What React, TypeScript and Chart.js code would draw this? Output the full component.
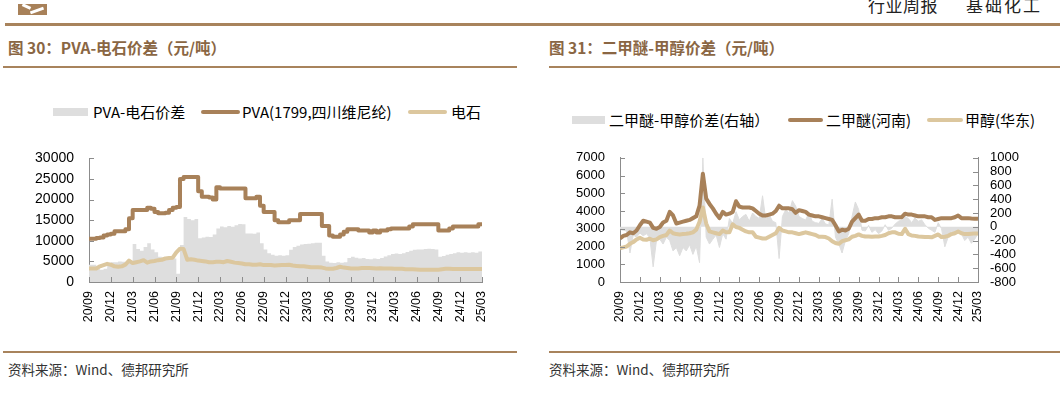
import React, { useEffect, useRef } from "react";
import { Chart, registerables } from "chart.js";
Chart.register(...registerables);

// ---------- data (half-month steps starting 2020/09) ----------
const xTickLabels = ["20/09","20/12","21/03","21/06","21/09","21/12","22/03","22/06","22/09","22/12","23/03","23/06","23/09","23/12","24/03","24/06","24/09","24/12","25/03"];

const pvaPrice = [10500,10500,10700,10800,11300,11500,11700,12300,12300,12300,12800,15500,17500,17500,17500,17500,18000,17800,17000,16700,16700,16800,17500,18000,18200,25000,25500,25500,25500,25500,22000,20700,20700,20500,20000,23000,22700,22700,22700,22700,22700,22700,22700,20300,20300,20300,20700,18500,17000,17000,17000,15000,14500,14500,14500,15000,15000,15000,16500,16500,16500,16500,16500,16500,13600,13600,11300,11000,11000,11500,12200,12800,12800,12800,12500,12500,12500,12000,12500,12000,12500,12500,12800,13000,13000,13000,13000,13000,13500,14000,14000,14000,14000,14000,14000,14000,12500,12500,12500,13000,13500,13500,13500,13500,13500,13500,13500,14000,14000];

const carbidePrice = [3300,3300,3300,3800,4100,4400,4200,3800,3700,3800,4200,5200,4600,4800,5000,5300,4700,5000,5100,5300,5400,5700,5800,5900,7200,8100,8000,5400,5500,5400,5200,5100,5000,4800,4800,4900,4900,4800,5100,4900,4700,4600,4500,4300,4300,4200,4200,4300,4100,4100,4100,4000,4050,4100,4100,4200,4000,3900,3800,3800,3700,3600,3600,3600,3500,3300,3200,3200,3400,3700,3500,3400,3300,3300,3300,3400,3400,3400,3350,3300,3350,3300,3300,3250,3200,3200,3200,3100,3100,3100,3050,3000,3000,2950,2950,2950,3000,3100,3200,3200,3150,3150,3150,3150,3150,3150,3150,3150,3150];

const pvaSpread = [4200,4200,3300,3000,3200,4500,4800,4800,5000,4900,4800,5000,9200,8000,7600,8500,9400,7900,7200,6100,5900,5800,5900,5700,2000,9000,15800,15300,15000,15300,10600,10800,11000,10900,11500,13000,13500,13300,13600,13400,13800,14100,14000,11800,11800,11700,12000,9400,7900,7000,6600,6400,6500,6400,6500,7800,8500,8800,9100,9200,9300,9400,9500,9500,6400,5000,4700,4600,4800,4700,4800,5800,6100,5900,5700,5800,5600,5500,5700,5600,5800,6200,6500,6800,6900,6800,7000,7300,7600,7800,7900,7900,8000,8100,8000,7900,6100,6300,6600,6800,7000,7200,7100,7200,7100,7200,7100,7400,7600];

const dmePrice = [2450,2600,2650,2800,2750,2900,3200,3450,3400,3350,3050,3000,3100,3350,3450,3950,3750,3300,3350,3400,3450,3500,3600,3700,4300,6100,4700,4400,4150,3850,3600,3950,3800,3850,3950,4550,4250,4200,4200,4200,4150,4000,3850,3750,3750,3800,3850,4000,4300,4150,4150,4150,4100,3900,4050,4000,3950,3800,3750,3700,3700,3650,3600,3550,3500,3200,2850,2950,2900,3000,3400,3600,3800,3450,3450,3550,3550,3600,3600,3650,3650,3700,3700,3650,3650,3650,3850,3800,3800,3750,3700,3700,3700,3650,3650,3500,3550,3600,3600,3600,3600,3650,3750,3600,3600,3600,3580,3570,3560];

const methanolPrice = [1900,1950,2000,2150,2250,2400,2500,2400,2380,2440,2350,2400,2530,2600,2650,2900,2750,2700,2680,2700,2720,2750,2800,2950,3400,4200,3300,2850,2800,2750,2700,2900,2800,2800,3250,3100,3050,2950,2850,2800,2800,2550,2500,2450,2450,2550,2650,2750,3050,2900,2850,2800,2800,2750,2700,2750,2800,2750,2700,2650,2550,2550,2530,2450,2300,2200,2150,2300,2350,2400,2550,2600,2680,2600,2560,2560,2550,2560,2560,2600,2650,2750,2800,2800,2720,2700,3000,2700,2620,2600,2560,2550,2530,2530,2520,2600,2680,2530,2550,2600,2700,2750,2850,2750,2700,2700,2720,2740,2740];

const dmeSpread = [-40,-50,-60,-380,-120,-150,-90,-130,-100,-160,-580,-200,-180,-250,-150,-200,-350,-300,-420,-300,-350,-260,-400,-280,-520,1000,-150,-250,-180,-120,-300,-100,-180,120,50,220,100,150,180,80,200,150,120,450,100,180,80,60,-460,150,250,200,380,300,150,120,100,200,80,60,50,120,40,30,400,-150,-250,-380,-200,-100,150,360,250,-50,-60,20,-80,-40,-100,-60,30,-50,-20,40,80,100,150,120,60,130,80,100,30,-20,-50,-80,60,-30,-290,-150,-60,-120,-80,-100,-200,-150,-240,-180,-100];

const STEP = 0.5; // months per data point

// ---------- styles ----------
const BROWN = "#a88159";
const TAN = "#dcc79e";
const GREY = "#dedede";
const AXIS = "#8c8c8c";
const LINE_BROWN = "#a8835c";
const TICK_FONT = "'Liberation Sans', Arial, sans-serif";
const CJK = "'Noto Sans CJK SC', 'Liberation Sans', sans-serif";
const LW = 4;

const toPts = (arr: number[]) => arr.map((v, i) => ({ x: i * STEP, y: v }));

const innerTicks = {
  id: "innerTicks",
  afterDraw(chart: any) {
    const ctx = chart.ctx;
    ctx.save();
    ctx.strokeStyle = AXIS;
    ctx.lineWidth = 1;
    const len = 5;
    Object.keys(chart.scales).forEach((id) => {
      const s = chart.scales[id];
      s.ticks.forEach((t: any) => {
        const p = Math.round(s.getPixelForValue(t.value)) + 0.5;
        ctx.beginPath();
        if (s.isHorizontal()) {
          const y = Math.round(s.top);
          ctx.moveTo(p, y);
          ctx.lineTo(p, y - len);
        } else if (s.position === "left") {
          const x = Math.round(s.right);
          ctx.moveTo(x, p);
          ctx.lineTo(x + len, p);
        } else {
          const x = Math.round(s.left);
          ctx.moveTo(x, p);
          ctx.lineTo(x - len, p);
        }
        ctx.stroke();
      });
    });
    ctx.restore();
  },
};

const xAxis = (fontSize: number) => ({
  type: "linear" as const,
  min: 0,
  max: 54,
  grid: { display: true, drawOnChartArea: false, drawTicks: false },
  border: { display: true, color: AXIS, width: 1 },
  afterFit: (s: any) => { s.height = 50; },
  afterBuildTicks: (s: any) => {
    s.ticks = xTickLabels.map((_, i) => ({ value: i * 3 }));
  },
  ticks: {
    minRotation: 90,
    maxRotation: 90,
    padding: 9,
    autoSkip: false,
    color: "#000",
    font: { family: TICK_FONT, size: fontSize },
    callback: (v: any) => xTickLabels[Math.round(Number(v) / 3)] ?? "",
  },
});

const plain = (v: any) => String(v);

function LegendBox({ left, top, w, h }: any) {
  return <div style={{ position: "absolute", left, top, width: w, height: h, background: GREY }} />;
}
function LegendLine({ left, top, w, color }: any) {
  return <div style={{ position: "absolute", left, top, width: w, height: 4, borderRadius: 2, background: color }} />;
}
function Txt({ left, top, size, children, style }: any) {
  return (
    <div style={{ position: "absolute", left, top, fontSize: size, lineHeight: `${size + 4}px`, whiteSpace: "nowrap", fontFamily: CJK, color: "#000", ...style }}>
      {children}
    </div>
  );
}
function HLine({ left, top, w, h }: any) {
  return <div style={{ position: "absolute", left, top, width: w, height: h, background: LINE_BROWN }} />;
}

export default function App() {
  const c1 = useRef<HTMLCanvasElement>(null);
  const c2 = useRef<HTMLCanvasElement>(null);

  useEffect(() => {
    const ch1 = new Chart(c1.current as HTMLCanvasElement, {
      type: "line",
      data: {
        datasets: [
          { label: "PVA(1799,四川维尼纶)", data: toPts(pvaPrice), borderColor: BROWN, borderWidth: LW, stepped: true, pointRadius: 0, order: 1, borderJoinStyle: "round", borderCapStyle: "round" },
          { label: "电石", data: toPts(carbidePrice), borderColor: TAN, borderWidth: LW, pointRadius: 0, order: 2, borderJoinStyle: "round", borderCapStyle: "round" },
          { label: "PVA-电石价差", data: toPts(pvaSpread), borderColor: GREY, backgroundColor: GREY, borderWidth: 0, stepped: true, pointRadius: 0, fill: "origin", order: 10 },
        ],
      },
      options: {
        animation: false,
        responsive: false,
        devicePixelRatio: 1,
        layout: { padding: { top: 14, right: 48, bottom: 3, left: 0 } },
        plugins: { legend: { display: false }, tooltip: { enabled: false } },
        scales: {
          x: xAxis(12.5),
          y: {
            min: 0,
            max: 30000,
            grid: { display: true, drawOnChartArea: false, drawTicks: false },
            border: { display: true, color: AXIS, width: 1 },
            afterFit: (s: any) => { s.width = 89; },
            ticks: { stepSize: 5000, autoSkip: false, padding: 15, color: "#000", font: { family: TICK_FONT, size: 14 }, callback: plain },
          },
        },
      } as any,
      plugins: [innerTicks],
    });

    const ch2 = new Chart(c2.current as HTMLCanvasElement, {
      type: "line",
      data: {
        datasets: [
          { label: "二甲醚(河南)", data: toPts(dmePrice), yAxisID: "y", borderColor: BROWN, borderWidth: LW, pointRadius: 0, order: 1, borderJoinStyle: "round" },
          { label: "甲醇(华东)", data: toPts(methanolPrice), yAxisID: "y", borderColor: TAN, borderWidth: LW, pointRadius: 0, order: 2, borderJoinStyle: "round" },
          { label: "二甲醚-甲醇价差(右轴)", data: toPts(dmeSpread), yAxisID: "yR", borderColor: GREY, backgroundColor: GREY, borderWidth: 1, pointRadius: 0, fill: "origin", order: 10 },
        ],
      },
      options: {
        animation: false,
        responsive: false,
        devicePixelRatio: 1,
        layout: { padding: { top: 17, right: 0, bottom: 3, left: 0 } },
        plugins: { legend: { display: false }, tooltip: { enabled: false } },
        scales: {
          x: xAxis(12.5),
          y: {
            position: "left",
            min: 0,
            max: 7000,
            grid: { display: true, drawOnChartArea: false, drawTicks: false },
            border: { display: true, color: AXIS, width: 1 },
            afterFit: (s: any) => { s.width = 80; },
            ticks: { stepSize: 1000, autoSkip: false, padding: 15, color: "#000", font: { family: TICK_FONT, size: 13 }, callback: plain },
          },
          yR: {
            position: "right",
            min: -800,
            max: 1000,
            grid: { display: true, drawOnChartArea: false, drawTicks: false },
            border: { display: true, color: AXIS, width: 1 },
            afterFit: (s: any) => { s.width = 86; },
            ticks: { stepSize: 200, autoSkip: false, padding: 12, color: "#000", font: { family: TICK_FONT, size: 13 }, callback: plain },
          },
        },
      } as any,
      plugins: [innerTicks],
    });

    return () => {
      ch1.destroy();
      ch2.destroy();
    };
  }, []);

  const titleStyle = { fontWeight: 700, color: "#8a6643" };
  const footStyle = { color: "#333" };

  return (
    <div style={{ position: "absolute", left: 0, top: 0, width: 1064, height: 393, overflow: "hidden", background: "#fff" }}>
      {/* header */}
      <div style={{ position: "absolute", left: 18, top: 4, width: 29, height: 11, background: BROWN, overflow: "hidden" }}>
        <div style={{ position: "absolute", left: 4, top: 1, width: 9, height: 3, background: "#fff", transform: "rotate(25deg)" }} />
        <div style={{ position: "absolute", left: 12, top: 5, width: 14, height: 3, background: "#fff", transform: "rotate(-20deg)" }} />
      </div>
      <Txt left={868} top={-6} size={17} style={{ color: "#222", letterSpacing: 0.5 }}>行业周报</Txt>
      <Txt left={966} top={-6} size={17} style={{ color: "#222", letterSpacing: 2 }}>基础化工</Txt>
      <HLine left={5} top={23} w={1055} h={3} />

      {/* titles */}
      <Txt left={8} top={38} size={15.5} style={titleStyle}>图 30：PVA-电石价差（元/吨）</Txt>
      <Txt left={549} top={38} size={15.5} style={titleStyle}>图 31：二甲醚-甲醇价差（元/吨）</Txt>
      <HLine left={3} top={66} w={514} h={2} />
      <HLine left={549} top={66} w={511} h={2} />

      {/* legend 1 */}
      <LegendBox left={53} top={108} w={35} h={8} />
      <Txt left={93} top={102} size={15}>PVA-电石价差</Txt>
      <LegendLine left={201} top={110} w={39} color={BROWN} />
      <Txt left={242} top={102} size={15}>PVA(1799,四川维尼纶)</Txt>
      <LegendLine left={408} top={110} w={39} color={TAN} />
      <Txt left={451} top={102} size={15}>电石</Txt>

      {/* legend 2 */}
      <LegendBox left={572} top={116} w={33} h={8} />
      <Txt left={609} top={110} size={15}>二甲醚-甲醇价差(右轴）</Txt>
      <LegendLine left={788} top={118} w={35} color={BROWN} />
      <Txt left={826} top={110} size={15}>二甲醚(河南)</Txt>
      <LegendLine left={927} top={118} w={36} color={TAN} />
      <Txt left={965} top={110} size={15}>甲醇(华东)</Txt>

      <canvas ref={c1} width={530} height={200} style={{ position: "absolute", left: 0, top: 135, width: 530, height: 200 }} />
      <canvas ref={c2} width={524} height={200} style={{ position: "absolute", left: 540, top: 135, width: 524, height: 200 }} />

      {/* footers */}
      <HLine left={3} top={351} w={514} h={2} />
      <HLine left={549} top={351} w={511} h={2} />
      <Txt left={8} top={361} size={13.5} style={footStyle}>资料来源：Wind、德邦研究所</Txt>
      <Txt left={549} top={361} size={13.5} style={footStyle}>资料来源：Wind、德邦研究所</Txt>
    </div>
  );
}
